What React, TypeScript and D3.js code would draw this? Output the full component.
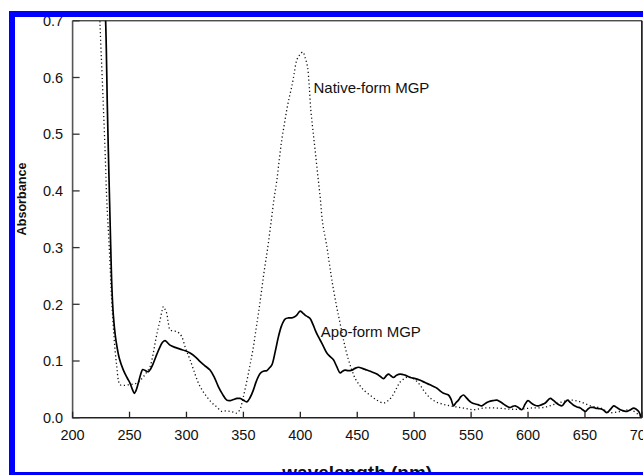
import React from 'react';
import * as d3 from 'd3';

// Absorption spectra of MGP: [wavelength (nm), absorbance]
const apoForm: [number, number][] = [
  [227.5, 0.76], [229, 0.70], [230.5, 0.55], [231.4, 0.47], [232.5, 0.38], [233.5, 0.30],
  [234.5, 0.23], [235.8, 0.18], [237.5, 0.145], [239, 0.125], [241, 0.105], [244.6, 0.084],
  [248, 0.07], [250.4, 0.061], [252.5, 0.05], [254.2, 0.043], [255.5, 0.047], [257.7, 0.061],
  [260, 0.078], [261.6, 0.085], [264, 0.083], [266.5, 0.081], [268.5, 0.086], [270.9, 0.096],
  [274, 0.112], [276.8, 0.125], [279, 0.133], [281.2, 0.136], [283.5, 0.132], [285.6, 0.128],
  [290, 0.124], [294.4, 0.121], [299, 0.118], [303.2, 0.114], [308, 0.107], [312, 0.099],
  [316, 0.092], [320.7, 0.084], [324.5, 0.071], [328, 0.055], [331.5, 0.042], [335.4, 0.031],
  [338.3, 0.030], [341.2, 0.032], [344.5, 0.034], [347.1, 0.034], [350, 0.031], [353, 0.028],
  [356, 0.036], [358.8, 0.049], [361.5, 0.065], [364.7, 0.078], [367.5, 0.082], [370.5, 0.083],
  [373, 0.088], [375, 0.093], [378, 0.117], [380.8, 0.143], [383.5, 0.162], [386.6, 0.174],
  [389.5, 0.176], [392.5, 0.176], [395, 0.178], [396.9, 0.181], [399.8, 0.188], [402, 0.185],
  [404.2, 0.181], [406.5, 0.178], [408.6, 0.175], [411, 0.165], [413, 0.155], [415, 0.146],
  [417.4, 0.137], [420.5, 0.125], [423.3, 0.114], [426, 0.108], [429.1, 0.102], [432, 0.09],
  [435, 0.079], [437, 0.082], [439.4, 0.084], [442, 0.083], [445.3, 0.084], [448, 0.087],
  [451.1, 0.089], [454.5, 0.087], [458.4, 0.084], [462.5, 0.081], [467.2, 0.077], [470, 0.073],
  [473.1, 0.069], [475.5, 0.074], [477.5, 0.077], [479.5, 0.074], [481.8, 0.071], [484.5, 0.075],
  [487.7, 0.077], [492, 0.075], [496.5, 0.071], [501, 0.069], [505.3, 0.066], [509.5, 0.062],
  [514, 0.058], [517, 0.055], [520, 0.052], [523, 0.047], [525.8, 0.043], [530.1, 0.040],
  [532.5, 0.032], [534.5, 0.021], [536.5, 0.026], [538.9, 0.031], [541, 0.037], [543.3, 0.040],
  [545.5, 0.036], [547.7, 0.031], [550, 0.027], [552.1, 0.025], [556, 0.023], [559.5, 0.021],
  [562.5, 0.025], [565.3, 0.028], [569, 0.030], [572.7, 0.031], [575.5, 0.028], [578.5, 0.024],
  [581.5, 0.020], [584.4, 0.018], [586.5, 0.020], [588.8, 0.021], [591.5, 0.018], [594.6, 0.014],
  [597.5, 0.024], [599.9, 0.030], [603.4, 0.025], [606, 0.022], [609.2, 0.021], [612, 0.023],
  [615.1, 0.026], [619.5, 0.034], [622, 0.031], [624.8, 0.026], [627, 0.023], [629.8, 0.021],
  [632, 0.026], [634.7, 0.031], [637, 0.027], [640, 0.022], [643, 0.019], [645.9, 0.017],
  [648, 0.014], [650.3, 0.011], [652.5, 0.015], [654.7, 0.018], [657, 0.018], [659.1, 0.017],
  [662, 0.016], [665, 0.015], [667, 0.012], [669.3, 0.009], [672.5, 0.015], [675.2, 0.021],
  [678, 0.018], [681, 0.014], [684, 0.012], [686.9, 0.011], [690, 0.014], [692.7, 0.017],
  [695, 0.015], [697.2, 0.011], [699.2, 0.002], [700, 0.0],
];

const nativeForm: [number, number][] = [
  [223.5, 0.76], [224.1, 0.694], [226, 0.60], [228.5, 0.472], [230, 0.384], [232.3, 0.296],
  [234.3, 0.208], [235.8, 0.16], [237.3, 0.119], [238.8, 0.09], [240.2, 0.066], [241.7, 0.058],
  [245, 0.057], [249, 0.058], [252.5, 0.059], [256.3, 0.061], [259, 0.065], [262.1, 0.072],
  [265, 0.08], [268, 0.090], [270.5, 0.11], [272.4, 0.131], [274.5, 0.152], [276.8, 0.172],
  [278.5, 0.188], [279.7, 0.196], [281, 0.192], [282.7, 0.184], [284, 0.168], [285.6, 0.155],
  [288.5, 0.153], [291.5, 0.152], [293.5, 0.149], [295.9, 0.143], [298.8, 0.125], [301, 0.113],
  [303.2, 0.102], [306.5, 0.083], [310.5, 0.061], [314, 0.048], [317.8, 0.037], [322, 0.027],
  [326.6, 0.019], [331, 0.011], [334.5, 0.012], [338.3, 0.011], [341, 0.010], [344.2, 0.008],
  [347.1, 0.015], [348.5, 0.024], [350, 0.037], [352, 0.055], [354.4, 0.078], [356.5, 0.1],
  [358.8, 0.125], [361, 0.155], [363.2, 0.184], [365.5, 0.217], [367.6, 0.249], [369.5, 0.275],
  [371.1, 0.296], [374, 0.34], [377, 0.387], [379.4, 0.419], [381.5, 0.455], [383.7, 0.490],
  [386, 0.518], [388.1, 0.543], [390.3, 0.565], [392.5, 0.584], [394.7, 0.608], [396.9, 0.631],
  [399.5, 0.640], [402.2, 0.645], [404.2, 0.635], [406.3, 0.619], [407.8, 0.585], [409.2, 0.543],
  [411, 0.508], [413, 0.472], [415.2, 0.43], [417.4, 0.390], [419.5, 0.345], [423.3, 0.302],
  [425.5, 0.272], [427.7, 0.243], [431.5, 0.2], [435, 0.166], [438.5, 0.132], [442.3, 0.102],
  [445.3, 0.084], [448.2, 0.069], [451.8, 0.058], [455.5, 0.049], [461, 0.04], [467.2, 0.031],
  [473, 0.026], [476.5, 0.029], [480.4, 0.037], [484, 0.05], [487.7, 0.063], [491.5, 0.069],
  [495, 0.072], [500, 0.068], [505, 0.058], [509, 0.046], [514, 0.035], [519, 0.028],
  [525, 0.024], [531, 0.021], [537, 0.019], [543.3, 0.017], [552, 0.014], [561, 0.017],
  [572.7, 0.017], [584.4, 0.015], [593.2, 0.015], [602, 0.017], [613.6, 0.018], [625.4, 0.025],
  [637, 0.031], [645.9, 0.028], [654.7, 0.021], [663.5, 0.017], [672.2, 0.009], [681, 0.011],
  [689.8, 0.014], [697.2, 0.005], [700, 0.0],
];

const xTickValues = [200, 250, 300, 350, 400, 450, 500, 550, 600, 650, 700];
const yTickValues = [0, 0.1, 0.2, 0.3, 0.4, 0.5, 0.6, 0.7];
const xTitle = 'wavelength (nm)';
const yTitle = 'Absorbance';
const nativeLabel = { text: 'Native-form MGP', nm: 411.6, abs: 0.573 };
const apoLabel = { text: 'Apo-form MGP', nm: 418, abs: 0.142 };

const W = 643;
const H = 475;
const plot = { left: 72.6, right: 641.9, top: 20.8, bottom: 417.7 };
const FONT = "'Liberation Sans', Arial, Helvetica, sans-serif";

export default function App() {
  const x = d3.scaleLinear().domain([200, 700]).range([plot.left, plot.right]);
  const y = d3.scaleLinear().domain([0, 0.7]).range([plot.bottom, plot.top]);

  const line = d3
    .line<[number, number]>()
    .x((d) => x(d[0]))
    .y((d) => y(d[1]))
    .curve(d3.curveCatmullRom.alpha(0.5));

  return (
    <svg
      width={W}
      height={H}
      viewBox={`0 0 ${W} ${H}`}
      style={{ position: 'absolute', left: 0, top: 0, background: '#fff' }}
      fontFamily={FONT}
    >
      <defs>
        <clipPath id="plot-clip">
          <rect x={plot.left} y={plot.top} width={plot.right - plot.left} height={plot.bottom - plot.top} />
        </clipPath>
      </defs>
      <rect x={0} y={0} width={W} height={H} fill="#fff" />

      {/* spectra */}
      <g clipPath="url(#plot-clip)" fill="none">
        <path d={line(nativeForm) ?? ''} stroke="#111" strokeWidth={1.3} strokeDasharray="1.2,2.6" />
        <path d={line(apoForm) ?? ''} stroke="#000" strokeWidth={1.7} strokeLinejoin="round" />
      </g>

      {/* frame */}
      <line x1={plot.left} x2={plot.right} y1={plot.top} y2={plot.top} stroke="#000" strokeWidth={1} />
      <line x1={plot.right} x2={plot.right} y1={plot.top} y2={plot.bottom} stroke="#000" strokeWidth={1.5} />
      <line x1={plot.left} x2={plot.left} y1={plot.top} y2={plot.bottom + 0.75} stroke="#555" strokeWidth={1.6} />
      <line x1={plot.left} x2={plot.right} y1={plot.bottom} y2={plot.bottom} stroke="#222" strokeWidth={1.6} />

      {/* x axis */}
      {xTickValues.map((v) => (
        <g key={`x${v}`}>
          <line x1={x(v)} x2={x(v)} y1={plot.bottom} y2={plot.bottom - 6} stroke="#222" strokeWidth={1.3} />
          <text x={x(v)} y={plot.bottom + 22.5} textAnchor="middle" fontSize={14.5} fill="#111">
            {String(v)}
          </text>
        </g>
      ))}

      {/* y axis */}
      {yTickValues.map((v) => (
        <g key={`y${v}`}>
          <line x1={plot.left} x2={plot.left + 7} y1={y(v)} y2={y(v)} stroke="#333" strokeWidth={1.3} />
          <text x={plot.left - 9.5} y={y(v)} dy="0.36em" textAnchor="end" fontSize={14.5} fill="#111">
            {v.toFixed(1)}
          </text>
        </g>
      ))}

      {/* curve labels */}
      <text x={x(nativeLabel.nm)} y={y(nativeLabel.abs)} fontSize={15} fill="#111">
        {nativeLabel.text}
      </text>
      <text x={x(apoLabel.nm)} y={y(apoLabel.abs)} fontSize={15} fill="#111">
        {apoLabel.text}
      </text>

      {/* axis titles */}
      <text x={(plot.left + plot.right) / 2} y={478.5} textAnchor="middle" fontSize={19} fontWeight="bold" fill="#111">
        {xTitle}
      </text>
      <text
        transform={`translate(25.5,199) rotate(-90)`}
        textAnchor="middle"
        fontSize={12.6}
        fontWeight="bold"
        fill="#111"
      >
        {yTitle}
      </text>

      {/* outer border */}
      <rect x={12} y={14} width={720} height={461} fill="none" stroke="#0000ff" strokeWidth={6} />
    </svg>
  );
}
